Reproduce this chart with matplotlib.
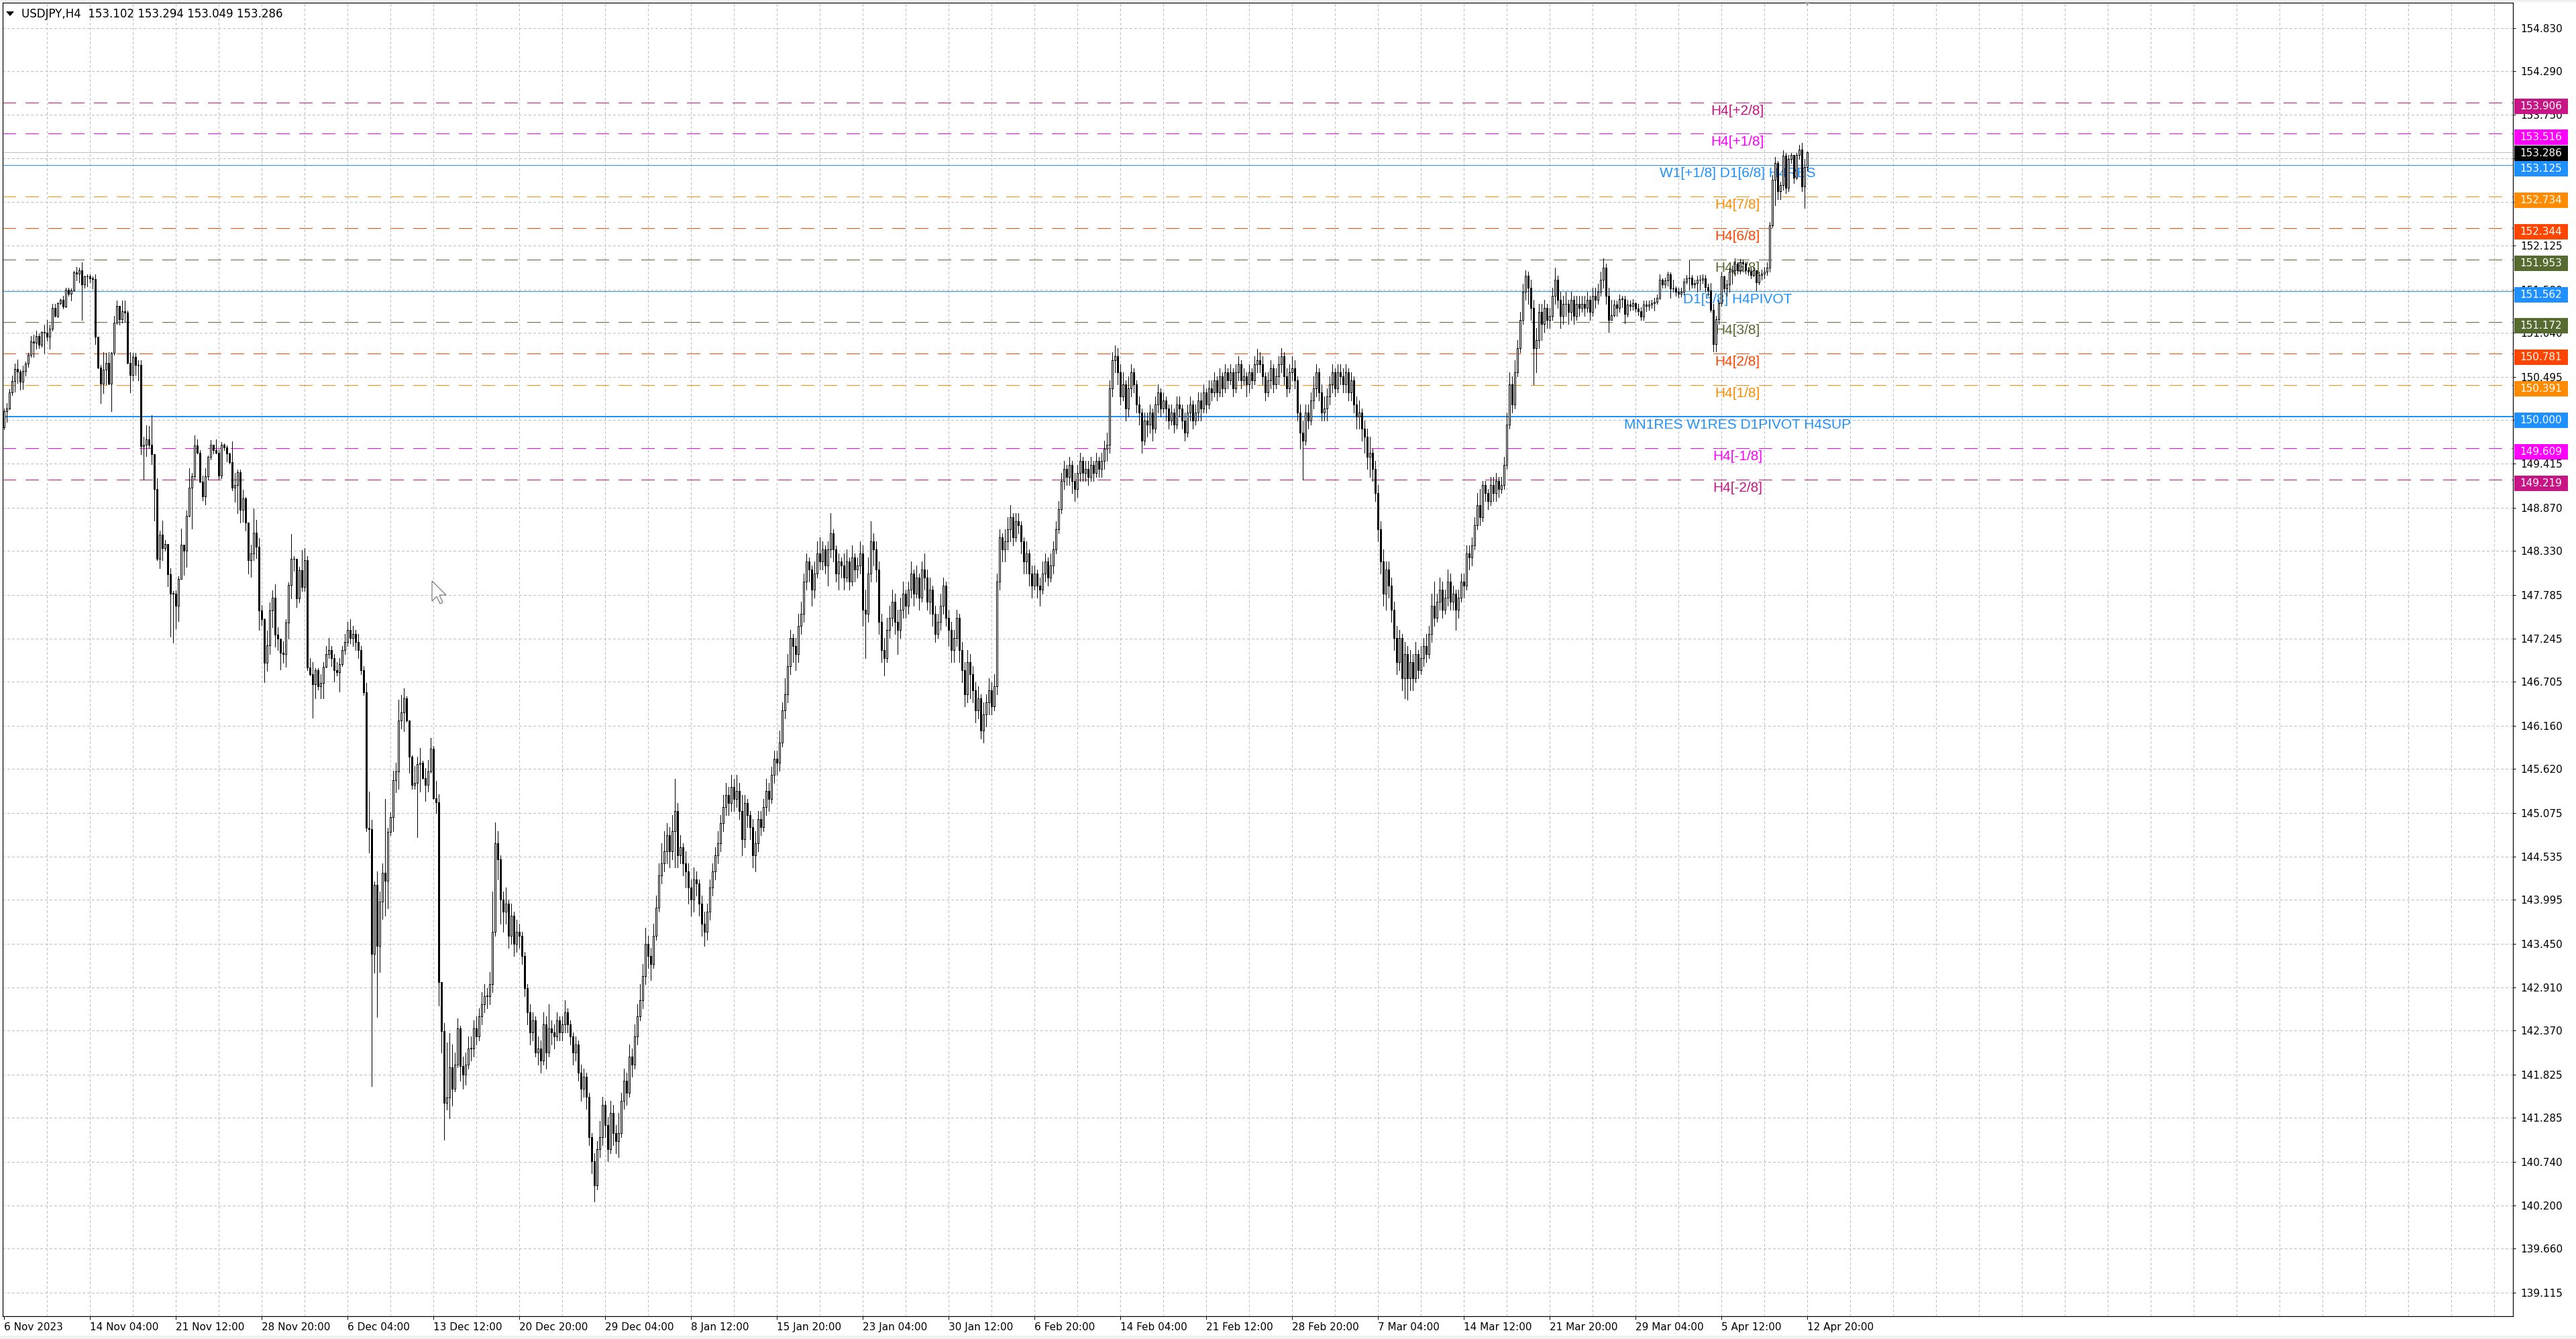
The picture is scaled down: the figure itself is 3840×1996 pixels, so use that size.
import numpy as np
import matplotlib.pyplot as plt
from matplotlib.patches import Rectangle, Polygon
from matplotlib.transforms import blended_transform_factory

W, H, DPI = 3840, 1996, 100
PX = 72 / DPI  # points per pixel

title_text = "USDJPY,H4  153.102 153.294 153.049 153.286"

# H4 candles, open of each bar = close of the bar before
first_open = 149.87
closes = [
    150.07, 150.10, 150.30, 150.44, 150.59, 150.56, 150.43, 150.57, 150.66, 150.77,
    150.93, 150.92, 151.00, 150.89, 151.05, 151.04, 150.99, 151.09, 151.35, 151.25,
    151.41, 151.45, 151.37, 151.58, 151.53, 151.57, 151.79, 151.78, 151.82, 151.64,
    151.74, 151.74, 151.72, 151.71, 150.99, 150.61, 150.41, 150.58, 150.67, 150.41,
    150.79, 151.17, 151.38, 151.21, 151.31, 151.29, 150.67, 150.52, 150.74, 150.64,
    150.64, 149.63, 149.65, 149.72, 149.65, 149.53, 149.10, 148.23, 148.53, 148.37,
    148.42, 148.04, 147.80, 147.80, 147.65, 147.98, 148.41, 148.33, 148.77, 149.12,
    149.26, 149.64, 149.55, 149.19, 149.01, 149.26, 149.50, 149.65, 149.58, 149.55,
    149.27, 149.65, 149.62, 149.54, 149.43, 149.12, 149.15, 149.31, 148.84, 148.98,
    148.68, 148.22, 148.30, 148.56, 148.38, 147.59, 147.48, 146.94, 147.16, 147.59,
    147.75, 147.29, 147.24, 147.07, 147.05, 147.44, 147.91, 148.23, 148.23, 147.74,
    148.09, 147.88, 148.22, 146.88, 146.80, 146.67, 146.85, 146.65, 146.69, 146.89,
    147.05, 147.10, 147.00, 146.85, 146.82, 146.92, 147.10, 147.20, 147.35, 147.25,
    147.30, 147.20, 147.10, 146.85, 146.57, 144.89, 144.87, 143.32, 144.18, 143.42,
    143.97, 144.33, 144.23, 144.84, 145.02, 145.48, 145.59, 146.22, 146.32, 146.50,
    146.22, 145.77, 145.42, 145.45, 145.68, 145.70, 145.51, 145.42, 145.59, 145.87,
    145.26, 145.21, 142.97, 142.36, 141.47, 141.54, 141.91, 141.65, 141.95, 142.40,
    141.93, 141.82,
    141.95, 142.15, 142.15,
    142.40, 142.30, 142.55, 142.70, 142.80, 142.80,
    142.95, 143.60, 144.70, 144.50, 144.00, 143.85,
    143.95, 143.55, 143.80, 143.45, 143.60, 143.55,
    143.30, 142.90, 142.60, 142.35, 142.50, 142.10,
    142.15, 142.00, 142.45, 142.10, 142.40, 142.35,
    142.30, 142.50, 142.35, 142.45, 142.60, 142.45,
    142.30, 142.10, 142.20, 141.85, 141.65, 141.80,
    141.55, 141.05, 140.75, 140.45, 140.90, 141.05,
    141.45, 141.20, 140.90, 141.35, 141.10, 141.00,
    141.10, 141.50, 141.75, 141.60, 142.05, 141.95,
    142.30, 142.55, 142.75, 143.05, 143.45, 143.30,
    143.20, 143.55, 143.90, 144.30, 144.45, 144.60,
    144.80, 144.60, 144.85, 145.10, 144.55, 144.65,
    144.45, 144.35, 144.15, 144.00, 144.25, 144.20,
    143.95, 143.70, 143.60, 143.85, 144.15, 144.35,
    144.55, 144.70, 144.95, 145.15, 145.30, 145.20,
    145.40, 145.25, 145.35, 145.10, 144.75, 145.20,
    145.05, 144.90, 144.55, 144.70, 145.00, 144.90,
    145.15, 145.35, 145.25, 145.55, 145.75, 145.70,
    145.95, 146.35, 146.55, 146.90, 147.25, 147.15,
    147.05, 147.40, 147.55, 147.95, 148.20, 148.10,
    147.85, 148.05, 148.30, 148.20, 148.35, 148.15,
    148.35, 148.55, 148.35, 148.05, 148.20, 148.15,
    148.00, 148.20, 147.95, 148.25, 148.10, 148.15,
    148.30, 147.60, 147.55, 148.05, 148.45, 148.35,
    148.10, 147.45, 147.10, 147.00, 147.35, 147.50,
    147.70, 147.45, 147.35, 147.60, 147.80, 147.65,
    147.85, 148.05, 147.80, 148.00, 147.75, 148.10,
    148.00, 147.70, 147.85, 147.55, 147.30, 147.45,
    147.65, 147.90, 147.50, 147.35, 147.10, 147.25,
    147.50, 147.10, 146.85, 146.55, 146.95, 146.80,
    146.60, 146.35, 146.50, 146.10, 146.30, 146.45,
    146.60, 146.40, 146.65, 147.95, 148.50, 148.35,
    148.45, 148.60, 148.75, 148.50, 148.70, 148.65,
    148.45, 148.20, 148.30, 148.05, 147.90, 148.05,
    147.90, 147.85, 148.05, 148.20, 148.00, 148.15,
    148.35, 148.60, 148.85, 149.20, 149.35, 149.25,
    149.40, 149.20, 149.10, 149.30, 149.45, 149.30,
    149.35, 149.25, 149.40, 149.30, 149.45, 149.35,
    149.45, 149.60, 149.65, 150.35, 150.70, 150.75,
    150.55, 150.25, 150.40, 150.10, 150.35, 150.55,
    150.40, 150.15, 150.05, 149.70, 149.95, 149.90,
    150.05, 149.85, 150.15, 150.30, 150.10, 150.20,
    150.10, 149.95, 150.05, 149.90, 150.15, 150.10,
    149.95, 149.80, 150.05, 150.15, 149.95, 150.05,
    150.20, 150.10, 150.30, 150.15, 150.35, 150.30,
    150.45, 150.30, 150.50, 150.35, 150.55, 150.45,
    150.55, 150.35, 150.55, 150.65, 150.45, 150.50,
    150.40, 150.55, 150.45, 150.65, 150.70, 150.65,
    150.50, 150.30, 150.45, 150.60, 150.40, 150.50,
    150.65, 150.75, 150.50, 150.35, 150.55, 150.60,
    150.45, 150.05, 149.80, 149.70, 150.05, 149.95,
    150.20, 150.35, 150.55, 150.30, 150.05, 150.10,
    150.25, 150.40, 150.55, 150.35, 150.55, 150.50,
    150.40, 150.55, 150.30, 150.45, 150.15, 150.00,
    150.05, 149.85, 149.75, 149.50, 149.55, 149.35,
    149.05, 148.60, 148.20, 147.80, 148.10, 147.90,
    147.60, 147.25, 146.95, 147.25, 146.75, 147.05,
    146.75, 146.95, 146.75, 147.05, 146.85, 147.00,
    147.15, 147.05, 147.30, 147.65, 147.50, 147.70,
    147.85, 147.60, 147.75, 147.95, 147.70, 147.80,
    147.60, 147.75, 147.95, 147.90, 148.30, 148.25,
    148.40, 148.65, 148.90, 148.75, 149.15, 149.05,
    148.95, 149.15, 149.05, 149.20, 149.10, 149.15,
    149.40, 149.90, 150.40, 150.15, 150.55, 150.85,
    151.20, 151.55, 151.75, 151.60, 151.35, 150.85,
    150.95, 151.30, 151.15, 151.35, 151.20, 151.25,
    151.50, 151.70, 151.45, 151.25, 151.40, 151.40,
    151.30, 151.45, 151.25, 151.40, 151.35, 151.40,
    151.35, 151.45, 151.30, 151.50, 151.45, 151.55,
    151.70, 151.85, 151.50, 151.20, 151.26, 151.39,
    151.35, 151.46, 151.46, 151.28, 151.39, 151.38,
    151.41, 151.34, 151.31, 151.24, 151.39, 151.38,
    151.39, 151.41, 151.43, 151.48, 151.70, 151.64,
    151.69, 151.77, 151.59, 151.59, 151.55, 151.53,
    151.55, 151.68, 151.72, 151.73, 151.64, 151.66,
    151.70, 151.70, 151.72, 151.61, 151.57, 151.33,
    150.90, 151.21, 151.41, 151.74, 151.59, 151.64,
    151.80, 151.82, 151.90, 151.82, 151.92, 151.90,
    151.82, 151.80, 151.76, 151.82, 151.67, 151.76,
    151.78, 151.80, 151.85, 152.38, 152.94, 153.15,
    152.80, 152.88, 153.24, 152.84, 153.20, 153.25,
    152.97, 153.25, 153.32, 152.86, 153.10, 153.286,
]
highs = [
    150.10, 150.17, 150.34, 150.51, 150.66, 150.71, 150.58, 150.63, 150.68, 150.79,
    151.00, 151.02, 151.07, 151.03, 151.06, 151.14, 151.20, 151.14, 151.40, 151.40,
    151.42, 151.47, 151.50, 151.60, 151.60, 151.59, 151.81, 151.86, 151.85, 151.92,
    151.75, 151.77, 151.77, 151.74, 151.77, 150.99, 150.64, 150.80, 150.79, 150.80,
    150.80, 151.25, 151.44, 151.37, 151.44, 151.44, 151.32, 150.80, 150.79, 150.79,
    150.70, 150.70, 149.75, 149.89, 149.88, 150.02, 149.53, 149.23, 148.58, 148.71,
    148.47, 148.36, 148.12, 147.83, 147.84, 148.02, 148.61, 148.40, 148.83, 149.36,
    149.30, 149.77, 149.72, 149.58, 149.27, 149.36, 149.52, 149.71, 149.65, 149.72,
    149.59, 149.68, 149.67, 149.64, 149.55, 149.69, 149.30, 149.34, 149.34, 149.09,
    149.00, 148.66, 148.41, 148.86, 148.72, 148.49, 147.66, 147.49, 147.34, 147.69,
    147.84, 147.92, 147.38, 147.23, 147.21, 147.48, 147.94, 148.54, 148.27, 148.22,
    148.13, 148.34, 148.37, 148.27, 147.00, 146.95, 146.87, 146.87, 146.80, 146.95,
    147.15, 147.25, 147.15, 147.05, 146.95, 147.00, 147.15, 147.30, 147.45, 147.48,
    147.40, 147.35, 147.30, 147.15, 146.90, 146.69, 145.34, 144.99, 144.22, 144.35,
    144.10, 144.45, 145.25, 144.89, 145.08, 145.60, 145.70, 146.48, 146.54, 146.62,
    146.52, 146.21, 145.79, 145.66, 145.77, 145.88, 145.72, 145.63, 145.73, 146.01,
    145.91, 145.47, 145.31, 142.95, 142.46, 142.22, 142.34, 142.20, 142.10, 142.52,
    142.43, 142.05,
    142.10, 142.30, 142.30,
    142.50, 142.55, 142.65, 142.85, 142.95, 142.90,
    143.10, 144.10, 144.96, 144.85, 144.55, 144.10,
    144.15, 144.00, 143.95, 143.85, 143.75, 143.70,
    143.60, 143.35, 142.95, 142.70, 142.60, 142.55,
    142.30, 142.25, 142.60, 142.55, 142.70, 142.50,
    142.45, 142.60, 142.55, 142.55, 142.75, 142.65,
    142.50, 142.35, 142.30, 142.25, 141.95, 141.90,
    141.85, 141.60, 141.10, 140.85, 141.00, 141.25,
    141.55, 141.50, 141.30, 141.50, 141.45, 141.20,
    141.35, 141.60, 141.90, 141.85, 142.20, 142.15,
    142.45, 142.70, 142.95, 143.20, 143.65, 143.55,
    143.40, 143.70, 144.05, 144.45, 144.70, 144.85,
    144.95, 144.90, 145.05, 145.50, 145.20, 144.80,
    144.70, 144.60, 144.45, 144.25, 144.40, 144.35,
    144.25, 144.05, 143.85, 143.95, 144.25, 144.45,
    144.65, 144.85, 145.05, 145.30, 145.45, 145.40,
    145.55, 145.50, 145.55, 145.45, 145.30, 145.30,
    145.25, 145.10, 145.00, 144.85, 145.10, 145.10,
    145.25, 145.50, 145.45, 145.65, 145.85, 145.85,
    146.10, 146.45, 146.75, 147.05, 147.35, 147.30,
    147.25, 147.55, 147.70, 148.05, 148.30, 148.25,
    148.15, 148.20, 148.45, 148.50, 148.45, 148.40,
    148.45, 148.80, 148.60, 148.40, 148.30, 148.25,
    148.30, 148.35, 148.25, 148.40, 148.30, 148.25,
    148.45, 148.40, 147.85, 148.25, 148.70, 148.55,
    148.45, 148.20, 147.55, 147.25, 147.50, 147.65,
    147.85, 147.80, 147.60, 147.75, 147.95, 147.85,
    147.95, 148.20, 148.10, 148.15, 148.05, 148.20,
    148.30, 148.10, 148.00, 147.90, 147.65, 147.55,
    147.80, 148.00, 147.95, 147.60, 147.45, 147.35,
    147.60, 147.55, 147.20, 146.95, 147.10, 147.05,
    146.90, 146.70, 146.65, 146.55, 146.45, 146.55,
    146.75, 146.70, 146.80, 148.05, 148.60, 148.55,
    148.60, 148.75, 148.90, 148.80, 148.80, 148.80,
    148.70, 148.50, 148.45, 148.35, 148.15, 148.15,
    148.10, 148.00, 148.20, 148.30, 148.25, 148.30,
    148.45, 148.70, 148.95, 149.30, 149.45, 149.40,
    149.50, 149.45, 149.30, 149.40, 149.55, 149.50,
    149.45, 149.45, 149.50, 149.45, 149.55, 149.50,
    149.55, 149.70, 149.80, 150.45, 150.80, 150.88,
    150.85, 150.65, 150.55, 150.45, 150.50, 150.65,
    150.60, 150.45, 150.25, 150.10, 150.05, 150.05,
    150.15, 150.10, 150.25, 150.40, 150.35, 150.30,
    150.25, 150.15, 150.15, 150.10, 150.25, 150.25,
    150.15, 150.05, 150.15, 150.25, 150.20, 150.15,
    150.30, 150.30, 150.40, 150.35, 150.45, 150.45,
    150.55, 150.50, 150.60, 150.55, 150.65, 150.60,
    150.65, 150.60, 150.65, 150.75, 150.70, 150.60,
    150.55, 150.65, 150.60, 150.75, 150.84, 150.80,
    150.75, 150.55, 150.55, 150.70, 150.65, 150.60,
    150.75, 150.85, 150.80, 150.60, 150.65, 150.75,
    150.70, 150.50, 150.15, 149.95, 150.15, 150.15,
    150.30, 150.50, 150.65, 150.60, 150.40, 150.25,
    150.35, 150.50, 150.65, 150.60, 150.65, 150.65,
    150.60, 150.65, 150.60, 150.55, 150.50, 150.25,
    150.20, 150.10, 149.95, 149.85, 149.75, 149.60,
    149.45, 149.15, 148.70, 148.35, 148.20, 148.20,
    148.00, 147.70, 147.40, 147.35, 147.30, 147.20,
    147.15, 147.10, 147.05, 147.20, 147.10, 147.15,
    147.25, 147.30, 147.40, 147.80, 147.95, 147.80,
    148.00, 147.95, 147.85, 148.10, 148.05, 147.90,
    147.85, 147.85, 148.05, 148.05, 148.40, 148.40,
    148.50, 148.75, 149.05, 149.10, 149.20, 149.20,
    149.10, 149.25, 149.25, 149.30, 149.25, 149.25,
    149.50, 150.05, 150.55, 150.50, 150.70, 150.95,
    151.30, 151.65, 151.82, 151.80, 151.70, 151.45,
    151.10, 151.40, 151.40, 151.45, 151.40, 151.35,
    151.60, 151.85, 151.75, 151.55, 151.50, 151.55,
    151.45, 151.55, 151.50, 151.50, 151.50, 151.50,
    151.50, 151.55, 151.50, 151.60, 151.60, 151.65,
    151.80, 151.97, 151.90, 151.60, 151.45, 151.45,
    151.44, 151.52, 151.50, 151.50, 151.45, 151.44,
    151.46, 151.42, 151.40, 151.36, 151.44, 151.44,
    151.44, 151.45, 151.48, 151.52, 151.77, 151.72,
    151.73, 151.80, 151.79, 151.70, 151.62, 151.60,
    151.60, 151.72, 151.76, 151.95, 151.76, 151.70,
    151.75, 151.76, 151.77, 151.76, 151.65, 151.66,
    151.40, 151.25, 151.45, 151.80, 151.75, 151.70,
    151.85, 151.88, 151.97, 151.92, 151.96, 151.95,
    151.93, 151.86, 151.85, 151.86, 151.80, 151.80,
    151.83, 151.86, 151.92, 152.42, 153.00, 153.23,
    153.18, 152.92, 153.31, 153.28, 153.25, 153.28,
    153.25, 153.28, 153.38, 153.40, 153.20, 153.294,
]
lows = [
    149.84, 149.93, 150.09, 150.27, 150.31, 150.42, 150.33, 150.34, 150.51, 150.62,
    150.74, 150.74, 150.84, 150.85, 150.87, 150.78, 150.94, 150.84, 151.07, 151.24,
    151.23, 151.39, 151.34, 151.36, 151.50, 151.44, 151.57, 151.69, 151.67, 151.20,
    151.60, 151.62, 151.67, 151.59, 150.90, 150.60, 150.17, 150.29, 150.40, 150.40,
    150.07, 150.77, 151.15, 151.14, 151.17, 151.18, 150.66, 150.30, 150.45, 150.52,
    150.45, 149.53, 149.22, 149.51, 149.61, 149.41, 148.71, 148.22, 148.12, 148.22,
    148.33, 147.89, 147.27, 147.19, 147.37, 147.46, 147.98, 148.03, 148.13, 148.76,
    148.61, 149.22, 149.54, 149.18, 148.96, 148.91, 149.22, 149.47, 149.54, 149.54,
    149.22, 149.23, 149.58, 149.44, 149.42, 149.08, 148.94, 148.80, 148.68, 148.69,
    148.58, 148.05, 148.01, 148.22, 148.24, 147.35, 147.41, 146.70, 146.84, 147.05,
    147.38, 147.14, 147.10, 146.86, 146.94, 146.89, 147.24, 147.74, 148.08, 147.63,
    147.69, 147.83, 147.83, 146.85, 146.78, 146.26, 146.50, 146.61, 146.50, 146.50,
    146.88, 147.00, 146.90, 146.71, 146.78, 146.58, 146.90, 147.05, 147.15, 147.18,
    147.15, 147.10, 147.00, 146.80, 146.54, 144.85, 144.58, 141.68, 143.09, 142.54,
    143.10, 143.76, 143.80, 143.89, 144.80, 144.85, 145.33, 145.37, 146.12, 146.09,
    146.21, 145.57, 145.37, 145.37, 144.77, 145.34, 145.50, 145.22, 145.34, 145.57,
    145.25, 145.07, 142.68, 142.10, 141.01, 141.39, 141.28, 141.44, 141.61, 141.91,
    141.75, 141.65,
    141.70, 141.90, 142.00,
    142.05, 142.20, 142.25, 142.45, 142.60, 142.65,
    142.70, 142.85, 143.55, 144.25, 143.70, 143.60,
    143.70, 143.40, 143.45, 143.30, 143.35, 143.40,
    143.20, 142.80, 142.45, 142.20, 142.25, 142.05,
    141.95, 141.85, 141.95, 141.90, 142.05, 142.20,
    142.15, 142.25, 142.25, 142.25, 142.35, 142.35,
    142.20, 141.95, 142.00, 141.75, 141.50, 141.55,
    141.40, 140.95, 140.60, 140.25, 140.40, 140.80,
    140.95, 141.05, 140.75, 140.85, 140.95, 140.85,
    140.80, 141.05, 141.40, 141.45, 141.55, 141.80,
    141.90, 142.20, 142.50, 142.65, 142.95, 143.15,
    143.00, 143.15, 143.50, 143.85, 144.20, 144.35,
    144.45, 144.40, 144.50, 144.40, 144.40, 144.45,
    144.30, 144.15, 143.95, 143.80, 143.85, 144.05,
    143.80, 143.55, 143.42, 143.50, 143.75, 144.05,
    144.25, 144.45, 144.60, 144.85, 145.05, 145.05,
    145.10, 145.10, 145.15, 145.00, 144.55, 144.65,
    144.90, 144.75, 144.40, 144.35, 144.60, 144.80,
    144.85, 145.05, 145.10, 145.20, 145.45, 145.55,
    145.60, 145.90, 146.25, 146.45, 146.80, 146.95,
    146.85, 146.95, 147.30, 147.45, 147.85, 147.95,
    147.65, 147.75, 148.00, 148.10, 148.10, 148.05,
    147.90, 148.25, 148.20, 147.95, 147.85, 148.00,
    147.85, 147.95, 147.85, 147.90, 147.95, 148.00,
    148.05, 147.40, 147.00, 147.45, 147.95, 148.15,
    147.95, 147.30, 146.95, 146.78, 146.95, 147.25,
    147.40, 147.30, 147.05, 147.25, 147.50, 147.50,
    147.55, 147.75, 147.65, 147.75, 147.60, 147.70,
    147.85, 147.60, 147.55, 147.40, 147.20, 147.25,
    147.35, 147.55, 147.40, 147.15, 146.95, 146.95,
    147.15, 146.95, 146.70, 146.40, 146.45, 146.50,
    146.45, 146.20, 146.25, 146.00, 145.95, 146.15,
    146.30, 146.30, 146.35, 146.55, 147.85, 148.20,
    148.20, 148.35, 148.45, 148.40, 148.45, 148.55,
    148.30, 148.05, 148.05, 147.90, 147.75, 147.85,
    147.75, 147.65, 147.80, 147.95, 147.90, 147.95,
    148.05, 148.30, 148.55, 148.80, 149.10, 149.15,
    149.15, 149.05, 148.95, 149.00, 149.20, 149.20,
    149.20, 149.15, 149.20, 149.20, 149.25, 149.25,
    149.25, 149.35, 149.45, 149.55, 150.25, 150.55,
    150.40, 150.15, 150.20, 149.95, 150.00, 150.25,
    150.30, 150.05, 149.90, 149.55, 149.65, 149.75,
    149.80, 149.70, 149.80, 150.05, 150.00, 150.05,
    149.95, 149.85, 149.90, 149.80, 149.85, 150.00,
    149.85, 149.70, 149.75, 149.95, 149.85, 149.90,
    149.95, 149.95, 150.05, 150.05, 150.10, 150.20,
    150.25, 150.20, 150.25, 150.25, 150.30, 150.35,
    150.40, 150.25, 150.30, 150.45, 150.35, 150.40,
    150.25, 150.30, 150.35, 150.40, 150.55, 150.55,
    150.40, 150.20, 150.25, 150.35, 150.30, 150.35,
    150.40, 150.55, 150.40, 150.25, 150.30, 150.45,
    150.35, 149.95, 149.60, 149.22, 149.65, 149.85,
    149.90, 150.10, 150.25, 150.20, 149.95, 149.95,
    149.95, 150.15, 150.30, 150.25, 150.30, 150.40,
    150.30, 150.30, 150.20, 150.20, 150.05, 149.85,
    149.85, 149.70, 149.55, 149.35, 149.25, 149.20,
    148.95, 148.45, 148.05, 147.65, 147.60, 147.75,
    147.45, 147.10, 146.80, 146.85, 146.60, 146.50,
    146.48, 146.60, 146.60, 146.70, 146.75, 146.80,
    146.90, 146.95, 147.00, 147.20, 147.40, 147.45,
    147.60, 147.50, 147.55, 147.65, 147.60, 147.60,
    147.35, 147.50, 147.70, 147.75, 147.85, 148.10,
    148.15, 148.35, 148.60, 148.65, 148.70, 148.95,
    148.85, 148.90, 148.95, 148.95, 149.00, 149.05,
    149.10, 149.35, 149.85, 150.05, 150.10, 150.50,
    150.80, 151.15, 151.45, 151.40, 151.20, 150.40,
    150.55, 150.85, 150.95, 151.05, 151.10, 151.10,
    151.20, 151.40, 151.35, 151.10, 151.15, 151.25,
    151.15, 151.20, 151.15, 151.20, 151.25, 151.30,
    151.25, 151.30, 151.20, 151.25, 151.35, 151.40,
    151.50, 151.60, 151.40, 151.05, 151.20, 151.24,
    151.25, 151.30, 151.36, 151.16, 151.24, 151.32,
    151.33, 151.30, 151.26, 151.20, 151.20, 151.31,
    151.33, 151.35, 151.32, 151.40, 151.46, 151.60,
    151.60, 151.63, 151.48, 151.55, 151.50, 151.48,
    151.49, 151.52, 151.65, 151.58, 151.60, 151.60,
    151.55, 151.58, 151.66, 151.55, 151.50, 151.30,
    150.81, 150.81, 151.15, 151.38, 151.55, 151.50,
    151.55, 151.65, 151.75, 151.78, 151.78, 151.80,
    151.78, 151.76, 151.72, 151.74, 151.57, 151.64,
    151.70, 151.72, 151.76, 151.80, 152.35, 152.63,
    152.70, 152.70, 152.82, 152.78, 152.80, 153.15,
    152.90, 152.95, 153.20, 152.80, 152.59, 153.049,
]

# one label every 32 bars
date_labels = [
    "6 Nov 2023", "14 Nov 04:00", "21 Nov 12:00", "28 Nov 20:00", "6 Dec 04:00",
    "13 Dec 12:00", "20 Dec 20:00", "29 Dec 04:00", "8 Jan 12:00", "15 Jan 20:00",
    "23 Jan 04:00", "30 Jan 12:00", "6 Feb 20:00", "14 Feb 04:00", "21 Feb 12:00",
    "28 Feb 20:00", "7 Mar 04:00", "14 Mar 12:00", "21 Mar 20:00", "29 Mar 04:00",
    "5 Apr 12:00", "12 Apr 20:00",
]

price_ticks = [
    154.830, 154.290, 153.750, 153.210, 152.670, 152.125, 151.580, 151.040, 150.495,
    149.955, 149.415, 148.870, 148.330, 147.785, 147.245, 146.705, 146.160, 145.620,
    145.075, 144.535, 143.995, 143.450, 142.910, 142.370, 141.825, 141.285, 140.740,
    140.200, 139.660, 139.115,
]

level_prices = [153.906, 153.516, 153.125, 152.734, 152.344, 151.953, 151.562,
                151.172, 150.781, 150.391, 150.000, 149.609, 149.219]
level_names = ["H4[+2/8]", "H4[+1/8]", "W1[+1/8] D1[6/8] H4RES", "H4[7/8]", "H4[6/8]",
               "H4[5/8]", "D1[5/8] H4PIVOT", "H4[3/8]", "H4[2/8]", "H4[1/8]",
               "MN1RES W1RES D1PIVOT H4SUP", "H4[-1/8]", "H4[-2/8]"]
level_colors = ["#C71585", "#FF00FF", "#1E90FF", "#FF8C00", "#FF4500", "#556B2F",
                "#1E90FF", "#556B2F", "#FF4500", "#FF8C00", "#1E90FF", "#FF00FF",
                "#C71585"]
level_solid = [False, False, True, False, False, False, True, False, False, False,
               True, False, False]
bid_price = 153.286

# ---------------------------------------------------------------------------
assert len(closes) == len(highs) == len(lows), (len(closes), len(highs), len(lows))

plt.rcParams["lines.scale_dashes"] = False
plt.rcParams["font.family"] = ["DejaVu Sans"]

ymin, ymax = 138.821, 155.144
ax_left, ax_right, ax_top, ax_bottom = 4, 3746, 4, 1962
PPU = (ax_bottom - ax_top) / (ymax - ymin)   # pixels per price unit
x0 = 5.67                                     # pixel x of bar 0
xmin = (ax_left - x0) / 4
xmax = (ax_right - x0) / 4

fig = plt.figure(figsize=(W / DPI, H / DPI), dpi=DPI, facecolor="white")
ax = fig.add_axes([ax_left / W, (H - ax_bottom) / H,
                   (ax_right - ax_left) / W, (ax_bottom - ax_top) / H])
ax.set_xlim(xmin, xmax)
ax.set_ylim(ymin, ymax)

# grid
grid_dash = (4 * PX, 3 * PX)
for p in price_ticks:
    ax.axhline(p, color="#C0C0C0", lw=PX, dashes=grid_dash, zorder=0.5,
               antialiased=False)
for b in range(16, int(xmax) + 1, 16):
    ax.axvline(b, color="#C0C0C0", lw=PX, dashes=grid_dash, zorder=0.5,
               antialiased=False)

# levels
for p, name, col, solid in zip(level_prices, level_names, level_colors, level_solid):
    lw = 2 * PX if p == 150.0 else PX
    if solid:
        ax.axhline(p, color=col, lw=lw, zorder=1, antialiased=False)
    else:
        ax.axhline(p, color=col, lw=lw, dashes=(20 * PX, 14 * PX), zorder=1,
                   antialiased=False)
    ax.text((2590 - x0) / 4, p - 3 / PPU, name, color=col, ha="center",
            va="top", fontsize=15, family="Liberation Sans", zorder=1.5)
ax.axhline(bid_price, color="#C0C0C0", lw=PX, zorder=1, antialiased=False)

# candles
c = np.array(closes)
o = np.concatenate([[first_open], c[:-1]])
hi = np.maximum(np.array(highs), np.maximum(o, c))
lo = np.minimum(np.array(lows), np.minimum(o, c))
x = np.arange(len(c))
up = c >= o
ax.vlines(x, lo, hi, color="black", lw=PX, zorder=3, antialiased=False)
ax.bar(x[~up], np.maximum(o - c, 0.004)[~up], bottom=c[~up], width=0.5,
       color="black", edgecolor="black", lw=PX, zorder=4, antialiased=False)
ax.bar(x[up], np.maximum(c - o, 0.004)[up], bottom=o[up], width=0.5,
       facecolor="white", edgecolor="black", lw=PX, zorder=4, antialiased=False)

# axes styling
for s in ax.spines.values():
    s.set_color("black")
    s.set_linewidth(1.2 * PX)
ax.yaxis.tick_right()
ax.set_yticks(price_ticks)
ax.set_yticklabels([f"{p:.3f}" for p in price_ticks])
ax.tick_params(axis="y", length=4 * PX, width=PX, pad=7 * PX, labelsize=11,
               colors="black")
ax.set_xticks([32 * k for k in range(len(date_labels))])
ax.set_xticklabels(date_labels, ha="left")
ax.tick_params(axis="x", length=5 * PX, width=PX, pad=4 * PX, labelsize=11)

# right side price boxes
trans = blended_transform_factory(fig.transFigure, ax.transData)
box_prices = level_prices[:2] + [bid_price] + level_prices[2:]
box_colors = level_colors[:2] + ["black"] + level_colors[2:]
for p, col in zip(box_prices, box_colors):
    top = p + (10 if p == bid_price else 6) / PPU
    ax.add_patch(Rectangle((3748 / W, top - 23 / PPU), 80 / W, 23 / PPU,
                           transform=trans, facecolor=col, edgecolor="none",
                           clip_on=False, zorder=20))
    ax.text(3788 / W, top - 11.5 / PPU, f"{p:.3f}", transform=trans, color="white",
            ha="center", va="center", fontsize=11, zorder=21, clip_on=False)


def fxy(px_x, px_y):
    return (px_x / W, 1 - px_y / H)


# title
fig.text(*fxy(32, 21), title_text, fontsize=12, va="center", ha="left")
fig.add_artist(Polygon([fxy(9, 17), fxy(21, 17), fxy(15, 24)], closed=True,
                       facecolor="black", edgecolor="none", transform=fig.transFigure))
# chart shift marker at top
fig.add_artist(Polygon([fxy(2686, 0), fxy(2702, 0), fxy(2694, 8)], closed=True,
                       facecolor="#A0A0A0", edgecolor="none", transform=fig.transFigure))
# mouse pointer left in the screenshot
cur = [(0, 0), (0, 30), (7, 23), (12, 34), (16, 32), (11, 21), (21, 21)]
fig.add_artist(Polygon([fxy(644 + cx, 866 + cy) for cx, cy in cur], closed=True,
                       facecolor="white", edgecolor="#606060", lw=PX,
                       transform=fig.transFigure))
# outer window frame
fig.add_artist(Rectangle(fxy(0, 1996), 1, 5 / H, facecolor="#F0F0F0",
                         edgecolor="none", transform=fig.transFigure))
fig.add_artist(Rectangle(fxy(0, 3), 1, 3 / H, facecolor="#F0F0F0",
                         edgecolor="none", transform=fig.transFigure))

fig.savefig("out.png", dpi=DPI)
